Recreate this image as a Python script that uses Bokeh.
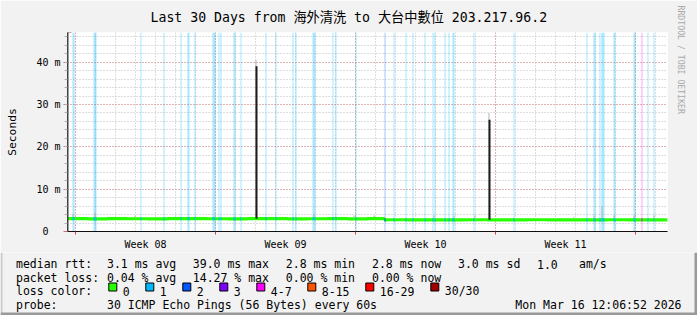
import numpy as np
from bokeh.plotting import figure
from bokeh.layouts import column
from bokeh.models import Range1d, FixedTicker, Grid, Title, Arrow
from bokeh.core.properties import value
from bokeh.embed import file_html
from bokeh.resources import INLINE

# ---------------- data ----------------
title_text = "Last 30 Days from 海外清洗 to 大台中數位 203.217.96.2"
y_label = "Seconds"
watermark = "RRDTOOL / TOBI OETIKER"

week_labels = ["Week 08", "Week 09", "Week 10", "Week 11"]
week_starts = [0.4, 7.4, 14.4, 21.4, 28.4]          # days since start of window
y_ticks = [0, 10, 20, 30, 40]                        # ms
y_tick_labels = ["0\u00a0\u00a0", "10 m", "20 m", "30 m", "40 m"]

# median rtt (ms), step series
median_t = [0, 1, 2, 3, 4, 5, 6, 7, 8, 9, 10, 11, 12, 13, 14, 15, 15.85,
            16, 17, 18, 19, 20, 21, 22, 23, 24, 25, 26, 27, 28, 29, 30]
median_v = [3.02, 3.00, 3.03, 3.01, 3.00, 3.02, 3.04, 3.01, 3.00, 3.03, 3.02, 3.00, 3.01, 3.03, 3.00, 3.02, 2.76,
            2.77, 2.75, 2.76, 2.74, 2.77, 2.76, 2.75, 2.77, 2.76, 2.74, 2.75, 2.77, 2.76, 2.75, 2.76]

# packet-loss samples (start day of 1.2 h sample, pings lost out of 30)
loss_t = [0.25, 0.30, 1.30, 1.35, 1.40, 3.65, 4.80, 5.65, 6.00, 6.05, 6.35,
          7.25, 7.30, 7.35, 7.55, 7.65, 8.30, 8.35, 8.65, 9.90, 10.40, 11.25, 11.40,
          12.25, 12.30, 12.35, 13.25, 13.40, 14.40, 15.85, 16.30, 16.90, 17.25, 17.85,
          18.25, 18.35, 18.85, 19.05, 19.25, 19.30, 20.30, 22.30, 25.95, 26.30, 26.35,
          26.60, 26.70, 26.75, 26.80, 27.30, 27.35, 28.30, 28.35, 28.70, 29.00, 29.30]
loss_n = [1, 1, 1, 1, 1, 1, 1, 1, 1, 1, 1,
          1, 1, 1, 1, 1, 1, 1, 1, 1, 1, 1, 1,
          1, 1, 1, 1, 1, 1, 2, 1, 1, 1, 1,
          1, 1, 1, 1, 1, 1, 1, 1, 1, 1, 1,
          1, 1, 1, 1, 1, 1, 1, 1, 4, 1, 1]

# latency spikes (median) and smoke tops
spike_t = [9.40, 21.05]
spike_v = [39.0, 26.4]
smoke_t = [0.25, 1.35, 3.35, 9.40, 12.30, 14.30, 15.30, 18.30, 19.30, 20.35, 21.05,
           25.30, 26.30, 26.70, 27.30, 28.30, 29.30]
smoke_v = [4.2, 4.4, 3.8, 40.5, 4.2, 3.8, 3.8, 3.8, 3.6, 3.8, 28.0,
           3.5, 3.8, 5.9, 3.8, 3.8, 3.8]

stat_rows = [
    ["median rtt:", "3.1 ms avg", "39.0 ms max", "2.8 ms min", "2.8 ms now", "3.0 ms sd", "1.0", "am/s"],
    ["packet loss:", "0.04 % avg", "14.27 % max", "0.00 % min", "0.00 % now"],
]
loss_bins = ["0", "1", "2", "3", "4-7", "8-15", "16-29", "30/30"]
loss_colors = ["#26ff00", "#00b8ff", "#0059ff", "#7e00ff", "#ff00ff", "#ff5500", "#ff0000", "#a10000"]
probe_text = "30 ICMP Echo Pings (56 Bytes) every 60s"
stamp_text = "Mon Mar 16 12:06:52 2026"

# ---------------- layout ----------------
W, H = 697, 315
HA = 252                      # height of chart part; legend part below
FL, FR, FT, FB = 67, 667, 32, 233
XMAX, YMAX = 30.0, 47.0
XPX = (FR - FL) / XMAX
YPX = (FB - FT) / YMAX
STEP = 0.05
BG = "#f2f2f2"
SHADE_A, SHADE_B = "#cbcbcb", "#999999"
MONO = "DejaVu Sans Mono"
MONO_CJK = "DejaVu Sans Mono, Noto Sans CJK TC"

def dx(px):
    return (px - FL) / XPX

def dy(py):
    return (FB - py) / YPX

pa = figure(width=W, height=HA, output_backend="svg", toolbar_location=None,
            x_range=Range1d(0, XMAX), y_range=Range1d(0, YMAX),
            min_border_left=FL, min_border_right=W - FR,
            min_border_top=FT, min_border_bottom=HA - FB)
pa.frame_align = False
pa.background_fill_color = "white"
pa.border_fill_color = BG
pa.outline_line_color = None

# title + watermark
pa.title.text = title_text
pa.title.align = "left"
pa.title.offset = 150.0 - FL
pa.title.standoff = 15
pa.title.text_font = MONO_CJK
pa.title.text_font_size = "13.2px"
pa.title.text_font_style = "normal"
pa.title.text_color = "black"
pa.add_layout(Title(text=watermark, align="left", offset=-27, standoff=17, text_font=MONO,
                    text_font_size="8.2px", text_font_style="normal", text_color="#a9a9a9"), "right")

# grids
pa.xgrid.visible = False
pa.ygrid.visible = False
day_lines = [week_starts[0] + k for k in range(30)]
minor_y = [v for v in range(2, 47, 2)]
for dim, major, minor in [(0, week_starts, day_lines), (1, [10, 20, 30, 40], minor_y)]:
    pa.add_layout(Grid(dimension=dim, ticker=FixedTicker(ticks=major, minor_ticks=minor),
                       grid_line_color="#e38b8b", grid_line_dash="1 2", grid_line_width=1,
                       minor_grid_line_color="#bdbdbd", minor_grid_line_dash="1 2",
                       minor_grid_line_width=1))

# axes
week_centers = [w + 3.5 for w in week_starts[:4]]
xa = pa.xaxis[0]
xa.ticker = FixedTicker(ticks=week_centers, minor_ticks=week_starts)
xa.major_label_overrides = {c: l for c, l in zip(week_centers, week_labels)}
xa.major_tick_out = 0
xa.major_tick_in = 0
xa.minor_tick_out = 3
xa.minor_tick_in = 0
xa.minor_tick_line_color = "#d04040"
xa.axis_line_color = "#101010"
xa.major_label_text_font = MONO
xa.major_label_text_font_size = "10px"
xa.major_label_text_color = "black"
xa.major_label_standoff = 4

ya = pa.yaxis[0]
ya.ticker = FixedTicker(ticks=y_ticks, minor_ticks=minor_y)
ya.major_label_overrides = {t: l for t, l in zip(y_ticks, y_tick_labels)}
ya.major_tick_out = 4
ya.major_tick_in = 0
ya.major_tick_line_color = "#d07070"
ya.minor_tick_out = 3
ya.minor_tick_in = 0
ya.minor_tick_line_color = "#b0b0b0"
ya.axis_line_color = "#404040"
ya.major_label_text_font = MONO
ya.major_label_text_font_size = "10px"
ya.major_label_text_color = "black"
ya.major_label_standoff = 3
ya.axis_label = y_label
ya.axis_label_text_font = MONO
ya.axis_label_text_font_size = "11.3px"
ya.axis_label_text_font_style = "normal"
ya.axis_label_text_color = "black"
ya.axis_label_standoff = 14

# loss background bars
def loss_bin(n):
    if n <= 3:
        return n
    if n <= 7:
        return 4
    if n <= 15:
        return 5
    if n <= 29:
        return 6
    return 7

lt = np.array(loss_t)
lcol = [loss_colors[loss_bin(n)] for n in loss_n]
pa.quad(left=lt, right=lt + STEP, bottom=0, top=YMAX, fill_color=lcol, fill_alpha=0.36, line_color=None)

mt = np.array(median_t)
mv = np.array(median_v)
def med_at(t):
    idx = np.clip(np.searchsorted(mt, t, side="right") - 1, 0, len(mv) - 1)
    return mv[idx]

# smoke
st = np.array(smoke_t)
pa.quad(left=st, right=st + STEP, bottom=med_at(st) + 0.4, top=np.array(smoke_v),
        fill_color="#b4b4b4", line_color=None)
# median line
pa.step(median_t, median_v, mode="after", line_color=loss_colors[0], line_width=3.2)
# median coloured by loss
lm = med_at(lt)
pa.quad(left=lt, right=lt + STEP, bottom=lm - 0.38, top=lm + 0.38, fill_color=lcol, line_color=None)
# spikes
spt = np.array(spike_t)
pa.quad(left=spt, right=spt + 2 * STEP, bottom=med_at(spt), top=np.array(spike_v),
        fill_color="#1c1c1c", line_color=None)

# line pieces drawn outside the frame (Arrow without heads is not clipped)
def seg(x0, y0, x1, y1, color, width):
    pa.add_layout(Arrow(end=None, x_start=dx(x0), y_start=dy(y0), x_end=dx(x1), y_end=dy(y1),
                        line_color=color, line_width=width, line_cap="butt"))

ARROW = "#8e1b1b"
seg(67.5, 237, 67.5, 31, "#404040", 1)          # y axis extension
seg(63, 233.5, 669, 233.5, "#101010", 1)        # x axis extension
for i, w in enumerate([7, 5, 3, 1]):            # arrow heads
    seg(67.5 - w / 2, 31.5 - i * 1.4, 67.5 + w / 2, 31.5 - i * 1.4, ARROW, 1.4)
    seg(668.5 + i * 1.4, 233.5 - w / 2, 668.5 + i * 1.4, 233.5 + w / 2, ARROW, 1.4)
# shaded outer frame (chart part)
seg(0, 1, W, 1, SHADE_A, 2)
seg(1, 0, 1, HA, SHADE_A, 2)
seg(W - 1.5, 0, W - 1.5, HA, SHADE_B, 3)

# ---------------- legend part ----------------
pb = figure(width=W, height=H - HA, output_backend="svg", toolbar_location=None,
            x_range=Range1d(0, W), y_range=Range1d(H, HA),
            x_axis_location=None, y_axis_location=None,
            min_border_left=0, min_border_right=0, min_border_top=0, min_border_bottom=0)
pb.frame_align = False
pb.background_fill_color = BG
pb.border_fill_color = BG
pb.outline_line_color = None
pb.xgrid.visible = False
pb.ygrid.visible = False

row_y = [263.5, 277, 290.5, 304]
col_x = [15.5, 106.5, 192.3, 285.3, 371.5, 457.5, 536.5, 578.5]
tx, ty, tt = [], [], []
for r, row in enumerate(stat_rows):
    for c, txt in enumerate(row):
        tx.append(col_x[c]); ty.append(row_y[r]); tt.append(txt)
tx.append(col_x[0]); ty.append(row_y[2]); tt.append("loss color:")
sq_left = []
sq = 108.3
for lbl in loss_bins:
    sq_left.append(sq)
    tx.append(sq + 14); ty.append(row_y[2]); tt.append(lbl)
    sq += 30 + 7 * len(lbl)
tx += [col_x[0], col_x[1]]; ty += [row_y[3], row_y[3]]; tt += ["probe:", probe_text]

pb.text(x=tx, y=ty, text=tt, text_font=value(MONO), text_font_size=value("11.5px"),
        text_baseline="alphabetic", text_align="left", text_color="black")
pb.text(x=[681], y=[row_y[3]], text=[stamp_text], text_font=value(MONO),
        text_font_size=value("11.5px"), text_baseline="alphabetic", text_align="right",
        text_color="black")
sql = np.array(sq_left)
pb.quad(left=sql, right=sql + 8, top=282.5, bottom=290.5, fill_color=loss_colors,
        line_color="black", line_width=1)
# shaded outer frame (legend part)
pb.quad(left=[0, W - 3, 0], right=[2, W, W], top=[HA, HA, H - 3], bottom=[H, H, H],
        fill_color=[SHADE_A, SHADE_B, SHADE_B], line_color=None)

lay = column(pa, pb, spacing=0)
open("out.html", "w").write(file_html(lay, INLINE))
